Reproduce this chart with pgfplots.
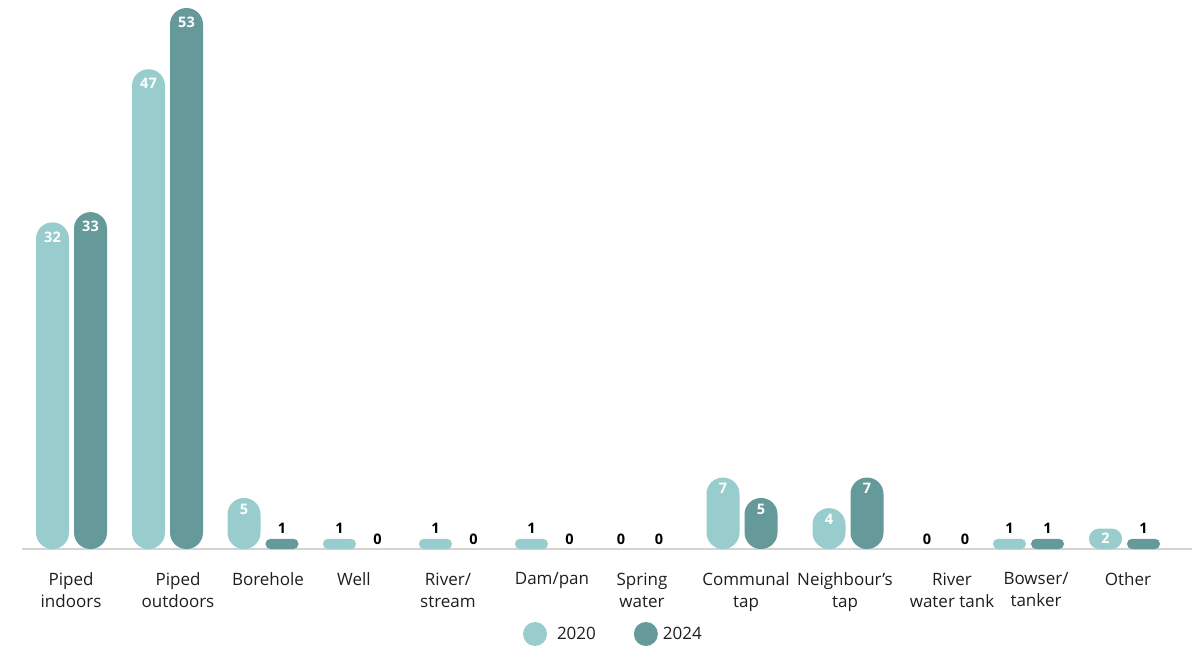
\documentclass[border=0pt]{standalone}
\usepackage{pgfplots}
\pgfplotsset{compat=1.18}
\usepackage{fontspec}
\setmainfont{Open Sans}
\definecolor{cA}{HTML}{99CCCC}
\definecolor{cB}{HTML}{669999}
\definecolor{axgray}{HTML}{D4D4D4}
\definecolor{txt}{HTML}{1E1E1E}
\begin{document}
\begin{tikzpicture}[x=1pt,y=1pt]
\path[use as bounding box] (0,0) rectangle (1202,646);
\begin{axis}[
  at={(22pt,97pt)}, anchor=south west,
  scale only axis, width=1170pt, height=541pt,
  xmin=22, xmax=1192, ymin=0, ymax=53,
  clip=false,
  axis x line=bottom, axis y line=none,
  x axis line style={-, draw=axgray, line width=2pt},
  xtick={71,178,268,354,448,552,642,746,845,952,1036,1128},
  xticklabels={{Piped\\indoors},{Piped\\outdoors},Borehole,Well,{River/\\stream},Dam/pan,{Spring\\water},{Communal\\tap},{Neighbour’s\\tap},{River\\water tank},{Bowser/\\tanker},Other},
  major tick length=0pt,
  xticklabel style={align=center, font=\fontsize{17}{22}\selectfont, text=txt, anchor=north, yshift=-20pt},
  ytick=\empty,
  /pgf/number format/assume math mode=true,
  mybar/.style={ybar, bar width=33pt, bar shift=0pt, draw=none, nodes near coords},
  legend style={at={(0.4282,-0.1571)}, anchor=west, draw=none, fill=none, inner sep=0pt, outer sep=0pt,
    legend columns=2, font=\fontsize{17}{22}\selectfont, text=txt,
    /tikz/every even column/.append style={column sep=36pt}},
  every node near coord/.append style={font=\fontsize{14.5}{16}\selectfont\bfseries, inner sep=0pt},
]
% 2020 tall
\addplot[mybar, fill=cA, rounded corners=16.4pt,
  nodes near coords style={anchor=north, yshift=-9pt, text=white},
  legend image code/.code={\fill[cA] (12pt,0pt) circle (12pt); \path (32pt,0pt);}]
  coordinates {(52.5,32) (148.5,47)};
\addlegendentry{2020}
% 2024 tall
\addplot[mybar, fill=cB, rounded corners=16.4pt,
  nodes near coords style={anchor=north, yshift=-9pt, text=white},
  legend image code/.code={\fill[cB] (12pt,0pt) circle (12pt); \path (27pt,0pt);}]
  coordinates {(90.5,33) (186.5,53)};
\addlegendentry{2024}
% 2020 mid
\addplot[mybar, forget plot, fill=cA, rounded corners=16.4pt,
  nodes near coords style={anchor=north, yshift=-5.5pt, text=white}]
  coordinates {(244,5) (723,7) (829,4)};
% 2024 mid
\addplot[mybar, forget plot, fill=cB, rounded corners=16.4pt,
  nodes near coords style={anchor=north, yshift=-5.5pt, text=white}]
  coordinates {(761,5) (867,7)};
% 2020 value 2
\addplot[mybar, forget plot, fill=cA, rounded corners=10pt,
  nodes near coords style={anchor=center, yshift=-10pt, text=white}]
  coordinates {(1105.5,2)};
% 2020 value 1
\addplot[mybar, forget plot, fill=cA, rounded corners=5pt,
  nodes near coords style={anchor=south, yshift=5pt, text=black}]
  coordinates {(339.5,1) (435.5,1) (531.5,1) (1009.5,1)};
% 2024 value 1
\addplot[mybar, forget plot, fill=cB, rounded corners=5pt,
  nodes near coords style={anchor=south, yshift=5pt, text=black}]
  coordinates {(282,1) (1047.5,1) (1143.5,1)};
% zeros (labels only)
\addplot[mybar, forget plot, fill=none,
  nodes near coords style={anchor=south, yshift=4pt, text=black}]
  coordinates {(377.5,0) (473.5,0) (569.5,0) (621,0) (659,0) (927,0) (965,0)};
\end{axis}
\end{tikzpicture}
\end{document}
